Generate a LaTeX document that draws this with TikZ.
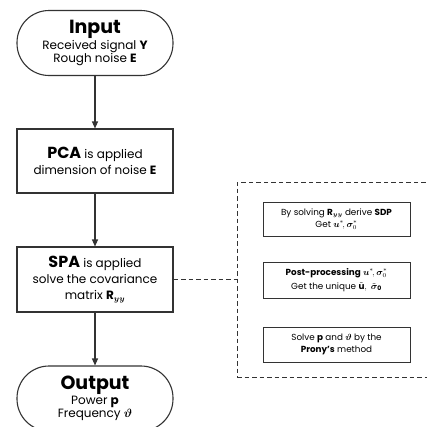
\documentclass[tikz,border=0pt]{standalone}
\usepackage{fontspec}
\usepackage{amsmath,bm}
\setmainfont{Poppins}
\usetikzlibrary{arrows.meta}
\definecolor{edge}{HTML}{333333}
\tikzset{
  stadium/.style={draw=edge, line width=1.1pt, rounded corners=32pt, minimum width=156pt, minimum height=65pt, align=center, inner sep=0pt},
  mainbox/.style={draw=edge, line width=1.1pt, minimum width=156pt, minimum height=64pt, align=center, inner sep=0pt, font=\fontsize{12}{16}\selectfont},
  subbox/.style={draw=edge, line width=0.9pt, minimum width=147pt, minimum height=35pt, align=center, inner sep=0pt, font=\fontsize{8.8}{12}\selectfont},
  flow/.style={draw=edge, line width=1.1pt, -{Triangle[length=7pt,width=6pt]}},
  dashline/.style={draw=edge, line width=0.9pt, dash pattern=on 4.5pt off 3pt}
}
\begin{document}
\begin{tikzpicture}[x=1pt,y=-1pt]
\useasboundingbox (0,0) rectangle (427,426);
\clip (0,0) rectangle (427,426);
\node[stadium] (in) at (95,43) {{\fontsize{19}{22}\selectfont\bfseries Input}\\[1pt]{\fontsize{12}{16}\selectfont Received signal \textbf{Y}}\\{\fontsize{12}{16}\selectfont Rough noise \textbf{E}}};
\node[mainbox] (pca) at (95,161) {{\fontsize{16}{18}\selectfont\bfseries PCA} is applied\\dimension of noise \textbf{E}};
\node[mainbox, minimum height=65pt] (spa) at (95,279.5) {{\fontsize{16}{18}\selectfont\bfseries SPA} is applied\\solve the covariance\\matrix $\mathbf{R}_{\bm{yy}}$};
\node[stadium] (out) at (95,398.5) {{\fontsize{19}{22}\selectfont\bfseries Output}\\[1pt]{\fontsize{12}{16}\selectfont Power \textbf{p}}\\[1pt]{\fontsize{12}{16}\selectfont Frequency $\bm{\vartheta}$}};
\draw[flow] (in) -- (pca);
\draw[flow] (pca) -- (spa);
\draw[flow] (spa) -- (out);
\node[dashline, minimum width=203pt, minimum height=195pt, inner sep=0pt] (grp) at (338.5,279.5) {};
\node[subbox, minimum height=34pt] (s1) at (336.5,219) {By solving $\mathbf{R}_{\bm{yy}}$ derive \textbf{SDP}\\Get $\bm{u}^{*}\!,\bm{\sigma}_{0}^{*}$};
\node[subbox, minimum height=36pt] (s2) at (336.5,280) {\textbf{Post-processing} $\bm{u}^{*}\!,\bm{\sigma}_{0}^{*}$\\[1.5pt]Get the unique $\tilde{\mathbf{u}},\ \tilde{\bm{\sigma}}_{\mathbf{0}}$};
\node[subbox] (s3) at (336.5,344.5) {Solve \textbf{p} and $\bm{\vartheta}$ by the\\\textbf{Prony's} method};
\draw[dashline] (spa.east) -- (spa.east -| grp.west);
\end{tikzpicture}
\end{document}
